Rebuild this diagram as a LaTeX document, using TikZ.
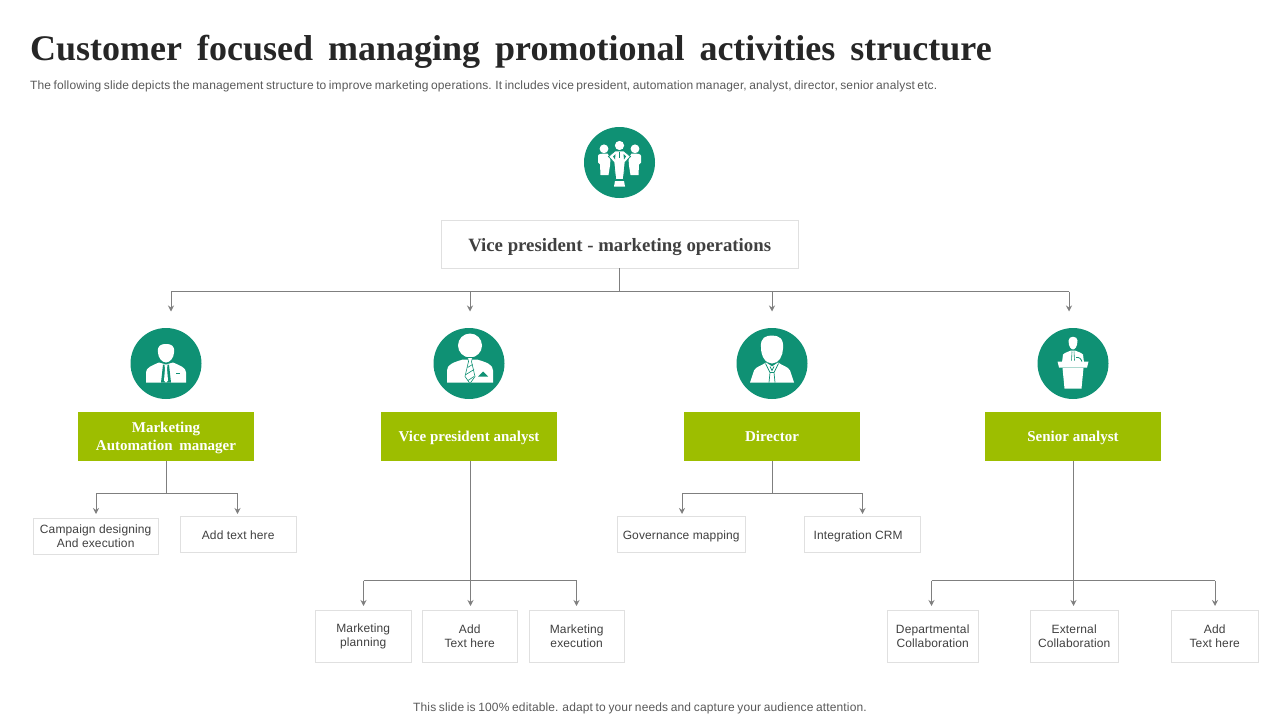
\documentclass[tikz,border=0pt]{standalone}
\usepackage{fontspec}
\setmainfont{Liberation Serif}
\newfontfamily\sansf{Liberation Sans}[LetterSpace=1.1]
\usetikzlibrary{arrows.meta,calc}
\definecolor{teal1}{HTML}{0F9174}
\definecolor{lime1}{HTML}{9DBE00}
\definecolor{line1}{HTML}{7F7F7F}
\definecolor{edge1}{HTML}{E0E0E0}
\definecolor{txt1}{HTML}{404040}
\definecolor{gry}{HTML}{595959}
\definecolor{ttl}{HTML}{262626}
\tikzset{
  x=1pt,y=-1pt,
  iconc/.style={circle,fill=teal1,draw=none,minimum size=71pt,inner sep=0pt},
  greenbox/.style={fill=lime1,draw=none,text=white,align=center,inner sep=0pt,outer sep=0pt,font=\fontsize{15}{18}\selectfont\bfseries},
  one/.style={text height=10pt,text depth=0pt},
  leaf/.style={fill=white,draw=edge1,line width=1pt,text=txt1,align=center,inner sep=0pt,outer sep=0pt,font=\sansf\fontsize{12}{14}\selectfont},
  conn/.style={draw=line1,line width=1pt},
  arr/.style={conn,-{Stealth[length=6pt,width=6pt]}},
  wht/.style={fill=white,draw=none},
  tealfill/.style={fill=teal1,draw=none},
  tealline/.style={draw=teal1,line width=0.6pt},
  whtline/.style={fill=white,draw=teal1,line width=0.8pt}
}
\newcommand{\boxat}[7][leaf]{\node[#1,minimum width=#4pt-#3pt-0.6pt,minimum height=#6pt-#5pt-0.6pt,anchor=north west] (#2) at (#3,#5) {#7};}
\begin{document}
\begin{tikzpicture}
\useasboundingbox (0,0) rectangle (1280,720);
% title
\node[anchor=base west,inner sep=0pt,text=ttl] (title) at (30,60) {\fontsize{36}{40}\selectfont\bfseries\spaceskip=15pt Customer focused managing promotional activities structure};
\node[anchor=base west,inner sep=0pt,text=gry] (sub) at (30,89) {\sansf\fontsize{12}{14}\selectfont\spaceskip=2.5pt The following slide depicts the management structure to improve marketing operations. It includes vice president, automation manager, analyst, director, senior analyst etc.};
\node[anchor=base,inner sep=0pt,text=gry] (foot) at (640,711.5) {\sansf\fontsize{12}{14}\selectfont\spaceskip=2.7pt This slide is 100\% editable. adapt to your needs and capture your audience attention.};
% top
\node[iconc] (top) at (619.5,162.5) {};
\boxat[leaf,font=\fontsize{18.8}{20}\selectfont\bfseries,text height=15pt,text depth=0pt]{vp}{441}{799}{220}{268.6}{Vice president - marketing operations}
% circles
\node[iconc] (ca) at (166,363.5) {};
\node[iconc] (cb) at (469,363.5) {};
\node[iconc] (cc) at (772,363.5) {};
\node[iconc] (cd) at (1073,363.5) {};
% green
\boxat[greenbox]{ga}{78}{254.6}{412}{461.6}{\rule{0pt}{13pt}Marketing\\Automation\hspace{0.2em} manager}
\boxat[greenbox,one]{gb}{381}{557.6}{412}{461.6}{Vice president analyst}
\boxat[greenbox,one]{gc}{684}{860.6}{412}{461.6}{Director}
\boxat[greenbox,one]{gd}{985}{1161.6}{412}{461.6}{Senior analyst}
% leaves
\boxat{a1}{33}{159}{518}{555}{Campaign designing\\And execution}
\boxat[leaf,one]{a2}{180}{297}{516}{553}{Add text here}
\boxat[leaf,one]{c1}{617}{746}{516}{553}{Governance mapping}
\boxat[leaf,one]{c2}{804}{921}{516}{553}{Integration CRM\hspace{8pt}}
\boxat{b1}{315}{412}{610}{663}{Marketing\\planning}
\boxat{b2}{422}{518}{610}{663}{Add\\Text here}
\boxat{b3}{529}{625}{610}{663}{Marketing\\execution}
\boxat{d1}{887}{979}{610}{663}{Departmental\\Collaboration}
\boxat{d2}{1030}{1119}{610}{663}{External\\Collaboration}
\boxat{d3}{1171}{1259}{610}{663}{Add\\Text here}
% junctions / ends
\coordinate (j0) at (619,291.5);
\foreach \n/\x in {t1/171,t2/470,t3/772,t4/1069}{\coordinate (\n) at (\x,311.5); \coordinate (\n h) at (\x,291.5);}
% connectors top
\draw[conn] (vp.south -| j0) -- (j0);
\draw[conn] (t1h) -- (t4h);
\foreach \n in {t1,t2,t3,t4}{\draw[arr] (\n h) -- (\n);}
% group a
\coordinate (ja) at (166.5,493);
\draw[conn] (ga.south -| ja) -- (ja);
\coordinate (ja1) at (96,493); \coordinate (ja2) at (237.5,493);
\draw[conn] (ja1) -- (ja2);
\draw[arr] (ja1) -- ($(a1.north -| ja1)+(0,-4)$);
\draw[arr] (ja2) -- ($(a2.north -| ja2)+(0,-2)$);
% group c
\coordinate (jc) at (772,493);
\draw[conn] (gc.south -| jc) -- (jc);
\coordinate (jc1) at (682,493); \coordinate (jc2) at (862.5,493);
\draw[conn] (jc1) -- (jc2);
\draw[arr] (jc1) -- ($(c1.north -| jc1)+(0,-2)$);
\draw[arr] (jc2) -- ($(c2.north -| jc2)+(0,-2)$);
% group b
\coordinate (jb) at (470.5,580.5);
\draw[conn] (gb.south -| jb) -- (jb);
\coordinate (jb1) at (363.5,580.5); \coordinate (jb3) at (576.5,580.5);
\draw[conn] (jb1) -- (jb3);
\draw[arr] (jb1) -- ($(b1.north -| jb1)+(0,-4)$);
\draw[arr] (jb) -- ($(b2.north -| jb)+(0,-4)$);
\draw[arr] (jb3) -- ($(b3.north -| jb3)+(0,-4)$);
% group d
\coordinate (jd) at (1073.5,580.5);
\draw[conn] (gd.south -| jd) -- (jd);
\coordinate (jd1) at (931.5,580.5); \coordinate (jd3) at (1215,580.5);
\draw[conn] (jd1) -- (jd3);
\draw[arr] (jd1) -- ($(d1.north -| jd1)+(0,-4)$);
\draw[arr] (jd) -- ($(d2.north -| jd)+(0,-4)$);
\draw[arr] (jd3) -- ($(d3.north -| jd3)+(0,-4)$);
% ===== icon top
\begin{scope}[shift={(619.5,162.5)}]
 \fill[wht] (-15.5,-13.7) circle (4.4);
 \fill[wht] (15.5,-13.7) circle (4.4);
 \fill[wht] (-21.5,-6.5) .. controls (-21.5,-8.5) and (-18,-9) .. (-16,-9) -- (-12,-9) -- (-9,-4) -- (-9.5,3) -- (-11,12.5) -- (-19,12.5) -- (-19.5,2) -- (-21.5,0) -- cycle;
 \fill[wht] (21.5,-6.5) .. controls (21.5,-8.5) and (18,-9) .. (16,-9) -- (12,-9) -- (9,-4) -- (9.5,3) -- (11,12.5) -- (19,12.5) -- (19.5,2) -- (21.5,0) -- cycle;
 \fill[wht] (0,-17) circle (4.6);
 \filldraw[whtline] (-4.5,-11.5) -- (4.5,-11.5) -- (11,-6) -- (5.5,0) -- (5,6) -- (3.8,17) -- (-3.8,17) -- (-5,6) -- (-5.5,0) -- (-11,-6) -- cycle;
 \fill[wht] (-4.5,18.5) -- (4.5,18.5) -- (5.5,24) -- (-5.5,24) -- cycle;
 \fill[tealfill] (-6.5,-6) -- (-4,-8.5) -- (-4.5,-3) -- cycle;
 \fill[tealfill] (6.5,-6) -- (4,-8.5) -- (4.5,-3) -- cycle;
 \draw[tealline] (0,-11) -- (0,-5);
\end{scope}
% ===== icon a
\begin{scope}[shift={(166,363.5)}]
 \fill[wht] (-8,-11) .. controls (-9,-18) and (-5,-19.5) .. (0,-19.5) .. controls (5,-19.5) and (9,-18) .. (8,-11) .. controls (8,-6) and (4,-1) .. (0,-1) .. controls (-4,-1) and (-8,-6) .. (-8,-11) -- cycle;
 \fill[wht] (-20,19) -- (-20,9) .. controls (-20,4) and (-14,2) .. (-7,-1) -- (0,1) -- (7,-1) .. controls (14,2) and (20,4) .. (20,9) -- (20,19) -- cycle;
 \fill[tealfill] (-3,1) -- (3,1) -- (5,19) -- (-5,19) -- cycle;
 \fill[wht] (-1.6,1) -- (1.6,1) -- (1,5) -- (2,17) -- (0,19) -- (-2,17) -- (-1,5) -- cycle;
 \fill[tealfill] (9.5,9.5) rectangle (13.5,10.8);
\end{scope}
% ===== icon b
\begin{scope}[shift={(469,363.5)}]
 \fill[wht] (1,-18) circle (12);
 \fill[wht] (-22,19) -- (-22,7) .. controls (-22,1) and (-16,-1) .. (-6,-4) -- (8,-4) .. controls (18,-1) and (24,1) .. (24,7) -- (24,19) -- cycle;
 \filldraw[fill=white,tealline] (-1.5,-6) -- (3.5,-6) -- (2.5,-2) -- (6,13) -- (1,20) -- (-4,13) -- (-0.5,-2) -- cycle;
 \draw[tealline] (-1.5,4) -- (3.5,1) (-3,11) -- (5,6) (-1,17) -- (5,13);
 \fill[tealfill] (14,8) -- (19,13) -- (9,13) -- cycle;
\end{scope}
% ===== icon c
\begin{scope}[shift={(772,363.5)}]
 \fill[wht] (-11,-16) .. controls (-12,-26) and (-6,-28) .. (0,-28) .. controls (7,-28) and (12,-25) .. (11,-15) .. controls (11,-8) and (7,0) .. (0,0) .. controls (-7,0) and (-11,-8) .. (-11,-16) -- cycle;
 \fill[wht] (-22,19) -- (-18,7) .. controls (-16,3) and (-10,2) .. (-6,-1) -- (0,3) -- (6,-1) .. controls (10,2) and (16,3) .. (18,7) -- (22,19) -- cycle;
 \draw[tealline,line width=0.7pt] (-6.5,0) -- (-2,9) -- (-3,19) (6.5,0) -- (2,9) -- (3,19) (-2,3) -- (0,7) -- (2,3) (-2,9) -- (2,9);
\end{scope}
% ===== icon d
\begin{scope}[shift={(1073,363.5)}]
 \fill[wht] (-4.5,-23) .. controls (-4.5,-28) and (4.5,-28) .. (4.5,-23) .. controls (4.5,-17) and (2,-14) .. (0,-14) .. controls (-2,-14) and (-4.5,-17) .. (-4.5,-23) -- cycle;
 \fill[wht] (-11,-1) -- (-10,-9) .. controls (-8,-11) and (-4,-12) .. (-2,-13) -- (2,-13) .. controls (4,-12) and (8,-11) .. (10,-9) -- (11,-1) -- cycle;
 \draw[tealline] (-1,-12) -- (-1.5,-3) (1,-12) -- (1.5,-3);
 \draw[teal1,line width=0.8pt] (3,-6) .. controls (6,-7) and (9,-4) .. (9,-1);
 \fill[wht] (-15.5,-2) -- (15.5,-2) -- (14,4) -- (-14,4) -- cycle;
 \fill[wht] (-10.5,4.5) -- (10.5,4.5) -- (8.5,25) -- (-8.5,25) -- cycle;
\end{scope}
\end{tikzpicture}
\end{document}
